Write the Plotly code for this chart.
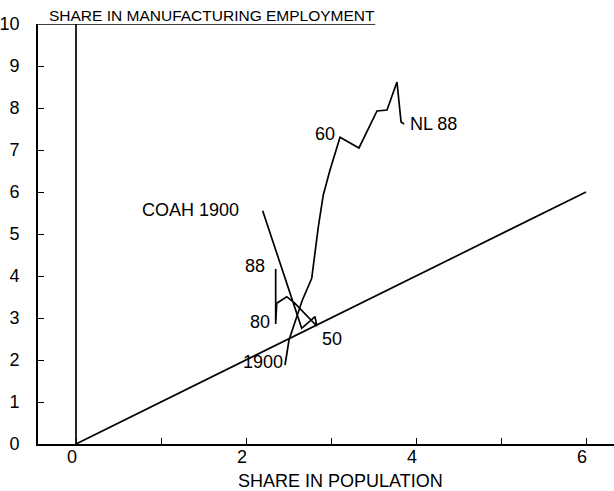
import plotly.graph_objects as go

# --- data ---
coah_x = [2.196, 2.342, 2.655, 2.812, 2.832, 2.576, 2.479, 2.361, 2.349, 2.349]
coah_y = [5.555, 4.667, 2.755, 3.031, 2.810, 3.350, 3.507, 3.350, 2.857, 4.167]

nl_x = [2.459, 2.506, 2.600, 2.659, 2.773, 2.851, 2.909, 2.988, 3.106, 3.329, 3.541, 3.659, 3.776, 3.824, 3.859]
nl_y = [1.881, 2.476, 3.048, 3.405, 3.945, 5.174, 5.929, 6.524, 7.302, 7.048, 7.929, 7.952, 8.619, 7.667, 7.619]

parity_x = [0, 6]
parity_y = [0, 6]

zero_x = [0, 0]
zero_y = [0, 10]

label_text = ["COAH 1900", "NL 88", "60", "88", "80", "50", "1900"]
label_x = [1.94, 3.91, 3.07, 2.25, 2.31, 2.87, 2.46]
label_y = [5.57, 7.62, 7.38, 4.24, 2.90, 2.49, 1.95]
label_anchor = ["right", "left", "right", "right", "right", "left", "right"]

x_ticks = [0, 1, 2, 3, 4, 5, 6]
x_ticktext = ["0", "", "2", "", "4", "", "6"]
y_ticks = list(range(0, 11))

FONT = "Liberation Sans, Arial, sans-serif"
line_style = dict(color="black", width=1.7)

fig = go.Figure()
fig.add_trace(go.Scatter(x=zero_x, y=zero_y, mode="lines", line=line_style, hoverinfo="skip"))
fig.add_trace(go.Scatter(x=parity_x, y=parity_y, mode="lines", line=line_style, hoverinfo="skip"))
fig.add_trace(go.Scatter(x=coah_x, y=coah_y, mode="lines", line=line_style, name="COAH"))
fig.add_trace(go.Scatter(x=nl_x, y=nl_y, mode="lines", line=line_style, name="NL"))

for t, x, y, a in zip(label_text, label_x, label_y, label_anchor):
    fig.add_annotation(x=x, y=y, text=t, showarrow=False, xanchor=a, yanchor="middle",
                       font=dict(family=FONT, size=18, color="black"))

# title (with underline along top)
fig.add_annotation(xref="paper", yref="paper", x=(47 - 38) / 576, y=1.0214, text="SHARE IN MANUFACTURING EMPLOYMENT",
                   showarrow=False, xanchor="left", yanchor="middle",
                   font=dict(family=FONT, size=15.5, color="black"))
fig.add_shape(type="line", xref="x", yref="y", x0=-0.447, x1=3.52, y0=10, y1=10,
              line=dict(color="black", width=1.4))

# x axis title
fig.add_annotation(xref="paper", yref="paper", x=(340 - 38) / 576, y=-0.088, text="SHARE IN POPULATION",
                   showarrow=False, xanchor="center", yanchor="middle",
                   font=dict(family=FONT, size=18, color="black"))

fig.update_layout(
    width=614, height=491,
    margin=dict(l=38, r=0, t=24, b=47, autoexpand=False),
    paper_bgcolor="white", plot_bgcolor="white",
    showlegend=False,
    font=dict(family=FONT, size=18, color="black"),
)
fig.update_xaxes(range=[-0.447, 6.329], tickvals=x_ticks, ticktext=x_ticktext,
                 ticks="inside", ticklen=6, tickwidth=1.4, tickcolor="black",
                 showline=True, linecolor="black", linewidth=1.6, automargin=False,
                 showgrid=False, zeroline=False, ticklabelstandoff=-4, ticklabelshift=-4,
                 tickfont=dict(family=FONT, size=18, color="black"))
fig.update_yaxes(range=[0, 10], tickvals=y_ticks,
                 ticks="inside", ticklen=6, tickwidth=1.4, tickcolor="black",
                 showline=True, linecolor="black", linewidth=1.6, automargin=False,
                 showgrid=False, zeroline=False, ticklabelstandoff=13,
                 tickfont=dict(family=FONT, size=18, color="black"))

fig.write_html("out.html", config={"displayModeBar": False},
               post_script="document.body.style.margin='0';document.body.style.overflow='hidden';")
